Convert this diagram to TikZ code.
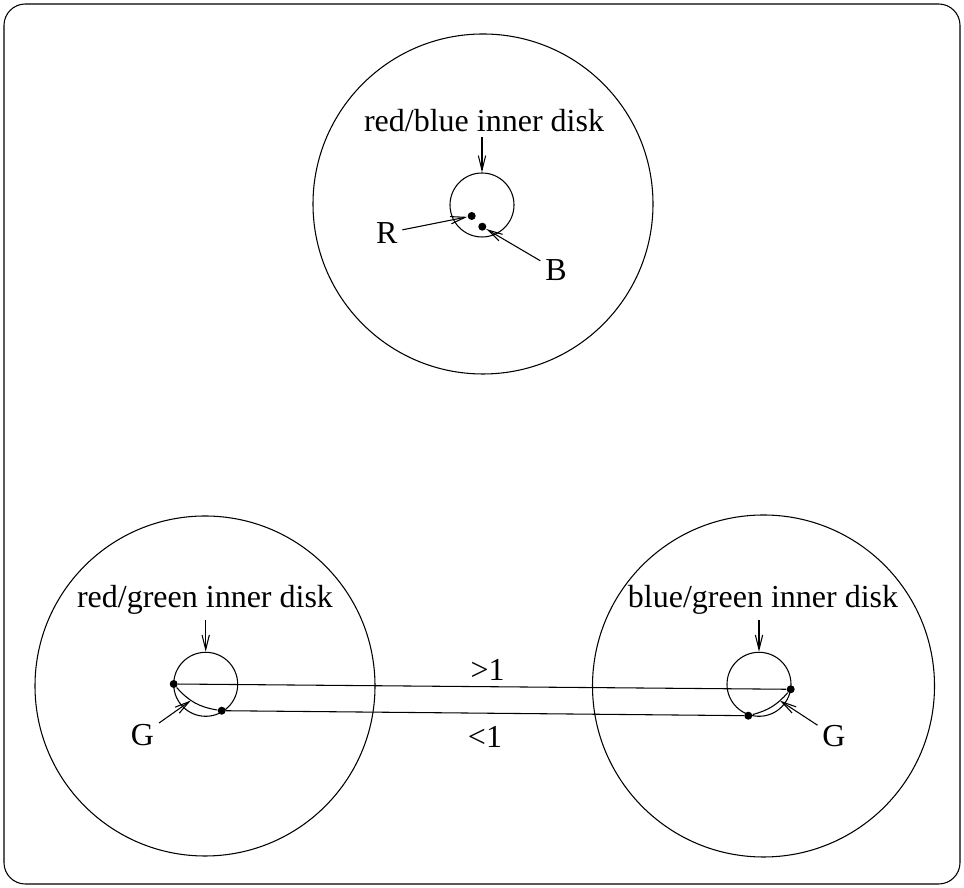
\documentclass[tikz,border=0pt]{standalone}
\usepackage{fontspec}
\setmainfont{Liberation Serif}
\usetikzlibrary{arrows.meta}
\begin{document}
\begin{tikzpicture}
            [x=0.75pt, y=0.75pt, line width=0.8pt,
             font=\fontsize{24}{28}\selectfont,
             outer disk/.style={circle,draw,minimum size=255pt,inner sep=0pt},
             inner disk/.style={circle,draw,minimum size=48pt,inner sep=0pt},
             dot/.style={circle,fill,minimum size=6pt,inner sep=0pt},
             arr/.style={-{Straight Barb[length=11pt,width=5.5pt]}}]
            \useasboundingbox (0,0) rectangle (964,888);
            \draw[rounded corners=16pt] (4,4) rectangle (960,884);

            % top disk
            \node[outer disk] (rbout) at (483,684) {};
            \node[inner disk] (rbin) at (482,683) {};
            \node[anchor=base] (rblab) at (484,756) {red/blue inner disk};
            \node[dot] (r) at (471.7,672) {};
            \node[dot] (b) at (482.3,661.3) {};
            \node (rlab) at (386.7,655) {R};
            \node (blab) at (556,618) {B};

            \draw[arr] (rblab.south -| rbin) -- (rbin.north);
            \draw[arr] (rlab) -- (r);
            \draw[arr] (blab) -- (b);

            % bottom left disk
            \node[outer disk] (rgout) at (205,202) {};
            \node[inner disk] (rgin) at (205.7,203.7) {};
            \node[anchor=base] (rglab) at (205,280) {red/green inner disk};
            \node[dot] (g1) at (173.7,204) {};
            \node[dot] (g2) at (221.7,177.3) {};
            \node (gllab) at (142.5,153.3) {G};

            \draw[arr] (rglab.south -| rgin) -- (rgin.north);
            \draw (g1) to[bend right=20] coordinate[pos=0.4] (gl) (g2);
            \draw[arr] (gllab) -- (gl);

            % bottom right disk
            \node[outer disk, minimum size=256.5pt] (bgout) at (763.5,202) {};
            \node[inner disk] (bgin) at (759,203.7) {};
            \node[anchor=base] (bglab) at (763,280) {blue/green inner disk};
            \node[dot] (g3) at (790.7,198.7) {};
            \node[dot] (g4) at (748.3,172.3) {};
            \node (grlab) at (834,152) {G};

            \draw[arr] (bglab.south -| bgin) -- (bgin.north);
            \draw (g4) to[bend right=17] coordinate[pos=0.75] (gr) (g3);
            \draw[arr] (grlab) -- (gr);

            % links
            \draw (g1) -- node[above=1pt, xshift=4pt] {>1} (g3);
            \draw (g2) -- node[below=6pt] {<1} (g4);
         \end{tikzpicture}
\end{document}
